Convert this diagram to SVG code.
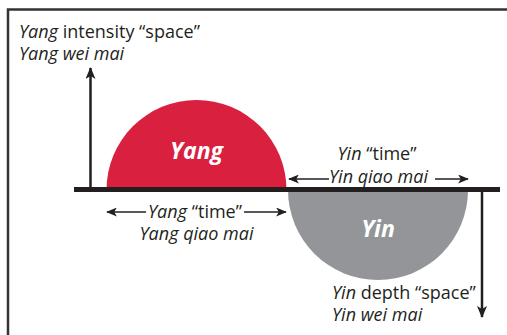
<svg xmlns="http://www.w3.org/2000/svg" width="507" height="335" viewBox="0 0 507 335">
<defs>
<marker id="ah" viewBox="0 0 12 10" refX="11" refY="5" markerWidth="12" markerHeight="10" markerUnits="userSpaceOnUse" orient="auto">
<path d="M0,0 L12,5 L0,10 L3,5 Z" fill="#231f20"/>
</marker>
<marker id="ahs" viewBox="0 0 12 10" refX="11" refY="5" markerWidth="11" markerHeight="9" markerUnits="userSpaceOnUse" orient="auto-start-reverse">
<path d="M0,0 L12,5 L0,10 L3,5 Z" fill="#231f20"/>
</marker>
</defs>
<style>
.t{font-family:"Open Sans","Noto Sans",sans-serif;font-size:18px;fill:#231f20}
.i{font-style:italic}
.w{font-family:"Open Sans","Noto Sans",sans-serif;font-size:23px;font-weight:bold;font-style:italic;fill:#ffffff}
.ln{stroke:#231f20;fill:none}
</style>
<rect width="507" height="335" fill="#ffffff"/>
<g id="frame">
<path d="M8,335 V9.5 H507" stroke="#333333" stroke-width="2.5" fill="none"/>
</g>
<g id="yang">
<path d="M106.5,190 A90,90 0 0 1 286.5,190 Z" fill="#d9203f"/>
<text class="w" x="196.5" y="159" text-anchor="middle">Yang</text>
</g>
<g id="yin">
<path d="M288,190 A90,90 0 0 0 468,190 Z" fill="#939598"/>
<text class="w" x="378" y="237" text-anchor="middle">Yin</text>
</g>
<g id="connectors">
<line class="ln" x1="74" y1="189.5" x2="500" y2="189.5" stroke-width="5"/>
<line class="ln" x1="90.5" y1="188" x2="90.5" y2="68" stroke-width="2.5" marker-end="url(#ah)"/>
<line class="ln" x1="482" y1="191" x2="482" y2="317" stroke-width="2.5" marker-end="url(#ah)"/>
<line class="ln" x1="146" y1="212" x2="107" y2="212" stroke-width="1.5" marker-end="url(#ahs)"/>
<line class="ln" x1="244" y1="212" x2="286" y2="212" stroke-width="1.5" marker-end="url(#ahs)"/>
<line class="ln" x1="329" y1="179" x2="289" y2="179" stroke-width="1.5" marker-end="url(#ahs)"/>
<line class="ln" x1="435" y1="179" x2="468" y2="179" stroke-width="1.5" marker-end="url(#ahs)"/>
</g>
<g id="label-yang-space">
<text class="t" x="19" y="38"><tspan class="i">Yang</tspan> intensity “space”</text>
<text class="t i" x="19" y="60">Yang wei mai</text>
</g>
<g id="label-yang-time">
<text class="t" x="195" y="218" text-anchor="middle"><tspan class="i">Yang</tspan> “time”</text>
<text class="t i" x="196.5" y="240" text-anchor="middle">Yang qiao mai</text>
</g>
<g id="label-yin-time">
<text class="t" x="377" y="160" text-anchor="middle"><tspan class="i">Yin</tspan> “time”</text>
<text class="t i" x="378.5" y="183" text-anchor="middle">Yin qiao mai</text>
</g>
<g id="label-yin-space">
<text class="t" x="332" y="299"><tspan class="i">Yin</tspan> depth “space”</text>
<text class="t i" x="332" y="321">Yin wei mai</text>
</g>
</svg>
